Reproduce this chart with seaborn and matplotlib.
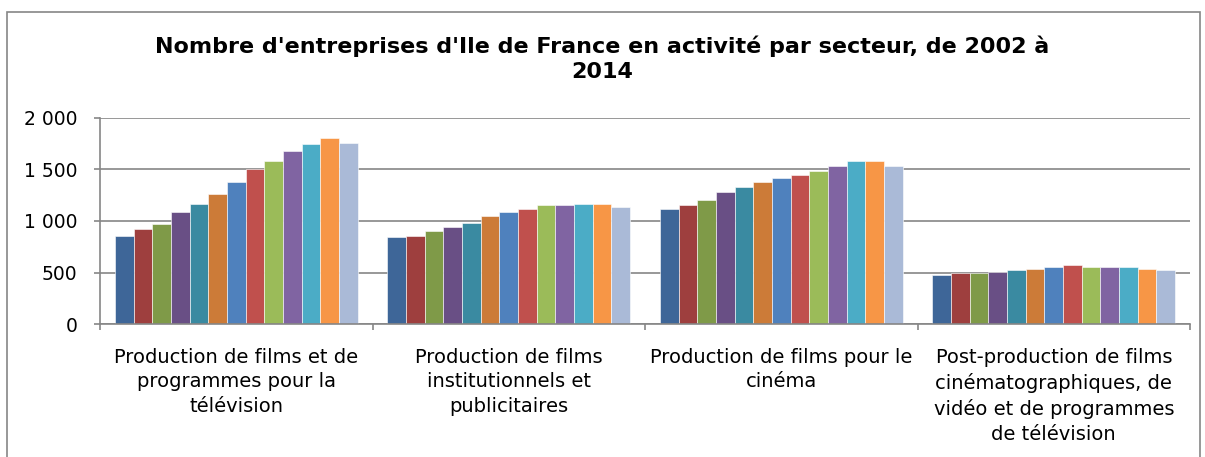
import matplotlib
matplotlib.use("Agg")
import matplotlib.pyplot as plt
import matplotlib.ticker as mticker
from matplotlib.patches import Rectangle
import numpy as np
import pandas as pd
import seaborn as sns

# ---------------------------------------------------------------------------
# Données
# ---------------------------------------------------------------------------
secteurs = [
    "Production de films et de\nprogrammes pour la\ntélévision",
    "Production de films\ninstitutionnels et\npublicitaires",
    "Production de films pour le\ncinéma",
    "Post-production de films\ncinématographiques, de\nvidéo et de programmes\nde télévision",
]
annees = [str(a) for a in range(2002, 2015)]

tv = [856, 921, 969, 1083, 1167, 1264, 1381, 1501, 1582, 1679, 1747, 1809, 1760]
institutionnels = [840, 856, 904, 937, 985, 1050, 1083, 1118, 1151, 1151, 1167, 1167, 1135]
cinema = [1118, 1151, 1203, 1284, 1332, 1381, 1413, 1446, 1481, 1530, 1579, 1579, 1530]
post_prod = [473, 493, 493, 506, 522, 538, 558, 574, 558, 558, 558, 538, 522]

couleurs = ["#3E6698", "#9E3F3E", "#7F9A48", "#694F85", "#3A8AA1", "#CC7B38", "#4F81BD",
            "#C0504D", "#9BBB59", "#8064A2", "#4BACC6", "#F79646", "#AABAD7"]

df = pd.DataFrame({
    "secteur": np.repeat(secteurs, len(annees)),
    "annee": annees * len(secteurs),
    "valeur": tv + institutionnels + cinema + post_prod,
})

# ---------------------------------------------------------------------------
# Figure
# ---------------------------------------------------------------------------
sns.set_style("white")
plt.rcParams["font.family"] = ["DejaVu Sans"]
plt.rcParams["text.color"] = "black"

fig = plt.figure(figsize=(12.05, 4.57), dpi=100)
ax = fig.add_axes([100 / 1205, 1 - 324 / 457, 1090 / 1205, 206 / 457])

sns.barplot(data=df, x="secteur", y="valeur", hue="annee", palette=couleurs,
            width=0.89, ax=ax, legend=False, edgecolor="white", linewidth=0.4,
            saturation=1)

gris = "#868686"
ax.set_ylim(0, 2000)
ax.set_xlim(-0.5, 3.5)
ax.set_yticks([0, 500, 1000, 1500, 2000])
ax.yaxis.set_major_formatter(mticker.FuncFormatter(lambda v, p: f"{int(v):,}".replace(",", " ")))
ax.grid(axis="y", color=gris, linewidth=1.2)
ax.set_axisbelow(True)
ax.set_xlabel("")
ax.set_ylabel("")

for side in ("top", "right"):
    ax.spines[side].set_visible(False)
for side in ("left", "bottom"):
    ax.spines[side].set_color(gris)
    ax.spines[side].set_linewidth(1.2)

ax.tick_params(axis="y", direction="out", length=4.3, color=gris, width=1.2,
               labelsize=13.5, pad=12, left=True, labelcolor="black")
ax.tick_params(axis="x", which="major", length=0, labelsize=14, pad=17,
               labelcolor="black")
ax.set_xticks([-0.5, 0.5, 1.5, 2.5, 3.5], minor=True)
ax.tick_params(axis="x", which="minor", direction="out", length=4.3, color=gris,
               width=1.2, bottom=True)
for lbl in ax.get_xticklabels():
    lbl.set_verticalalignment("top")
    lbl.set_linespacing(1.39)

fig.text(0.5, 1 - 58.5 / 457,
         "Nombre d'entreprises d'Ile de France en activité par secteur, de 2002 à\n2014",
         ha="center", va="center", fontsize=16, fontweight="bold", linespacing=1.32)

# cadre de la zone de graphique (coupé en bas)
fig.patches.append(Rectangle((7 / 1205, -0.1), 1193 / 1205, 1.1 - 12 / 457,
                             transform=fig.transFigure, fill=False,
                             edgecolor=gris, linewidth=1.2, clip_on=False))

fig.savefig("out.png", dpi=100)
